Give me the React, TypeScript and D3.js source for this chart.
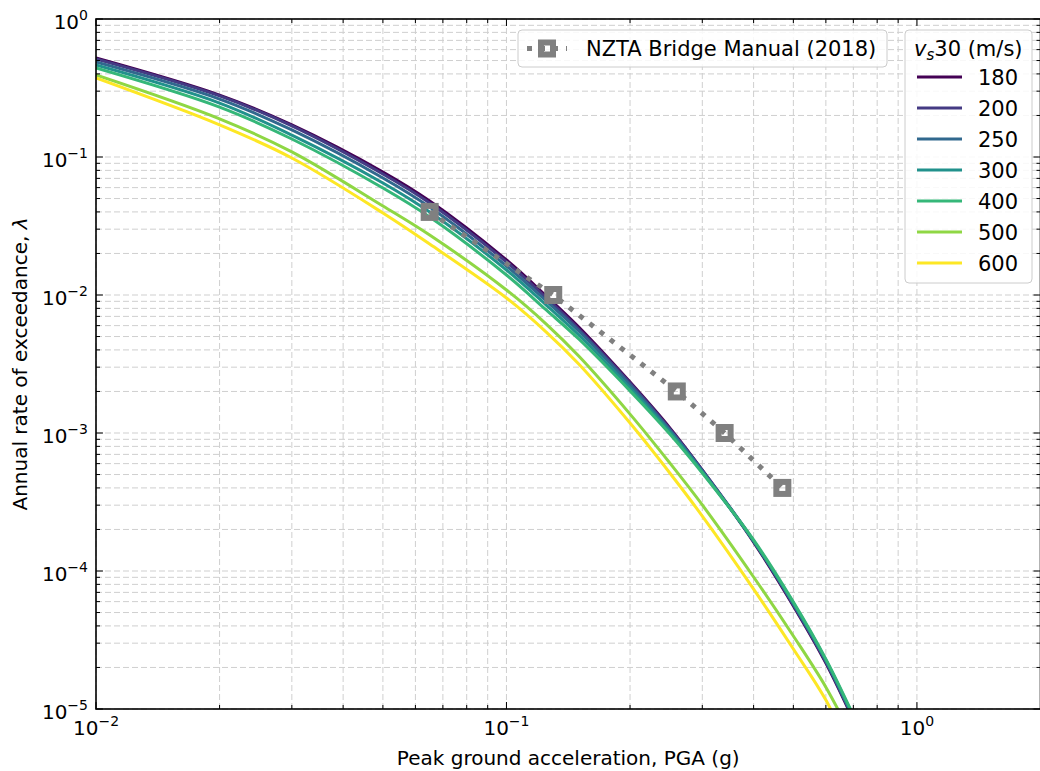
import React from 'react';
import * as d3 from 'd3';

// ---------- data ----------
const pga = [0.01, 0.02, 0.03, 0.05, 0.065, 0.1, 0.125, 0.15, 0.2, 0.25, 0.3, 0.4, 0.5, 0.6, 0.7];
const vs30Labels = ['180', '200', '250', '300', '400', '500', '600'];
const lam180 = [0.522, 0.281, 0.171, 0.0779, 0.048, 0.01793, 0.00983, 0.00586, 0.00234, 0.00109, 0.000539, 0.000162, 0.0000558, 0.0000215, 0.0000083];
const lam200 = [0.513, 0.277, 0.168, 0.0753, 0.0464, 0.01735, 0.00951, 0.00567, 0.0023, 0.00107, 0.000539, 0.000165, 0.0000567, 0.0000219, 0.0000085];
const lam250 = [0.488, 0.263, 0.157, 0.0705, 0.0434, 0.01623, 0.00905, 0.00548, 0.00223, 0.00105, 0.00053, 0.000165, 0.0000577, 0.0000223, 0.0000086];
const lam300 = [0.464, 0.246, 0.144, 0.0648, 0.0399, 0.01518, 0.00846, 0.00513, 0.00212, 0.00102, 0.000522, 0.000165, 0.0000586, 0.0000227, 0.0000088];
const lam400 = [0.442, 0.23, 0.135, 0.0596, 0.0367, 0.01396, 0.00779, 0.0048, 0.00202, 0.000983, 0.000513, 0.000168, 0.0000596, 0.000023, 0.000009];
const lam500 = [0.393, 0.189, 0.109, 0.0442, 0.0272, 0.01087, 0.00616, 0.00361, 0.00137, 0.000606, 0.000301, 0.0000905, 0.0000338, 0.0000144, 0.000006];
const lam600 = [0.374, 0.171, 0.0983, 0.0393, 0.0234, 0.00951, 0.00539, 0.00316, 0.00118, 0.000513, 0.00025, 0.000074, 0.0000272, 0.0000116, 0.0000045];
const seriesValues = [lam180, lam200, lam250, lam300, lam400, lam500, lam600];
const seriesColors = ['#440154', '#443a83', '#31688e', '#21918c', '#35b779', '#8fd744', '#fde725'];

const nztaPga = [0.065, 0.13, 0.26, 0.34, 0.47];
const nztaLam = [0.04, 0.01, 0.002, 0.001, 0.0004];
const nztaLabel = 'NZTA Bridge Manual (2018)';

const xTickExps = [-2, -1, 0];
const yTickExps = [0, -1, -2, -3, -4, -5];
const xLabel = 'Peak ground acceleration, PGA (g)';
const yLabel = 'Annual rate of exceedance, ';

const FONT = 'DejaVu Sans, sans-serif';
const FS = 20;
const LFS = 21;

export default function App() {
  const W = 1040, H = 771;
  const L = 96, R = 1040.5, T = 19, B = 709;
  const x = d3.scaleLog().domain([0.01, 2]).range([L, R]);
  const y = d3.scaleLog().domain([1e-5, 1]).range([B, T]);

  const xMajor = xTickExps.map(e => Math.pow(10, e));
  const xMinor: number[] = [];
  [-2, -1, 0].forEach(e => { for (let k = 2; k <= 9; k++) { const v = k * Math.pow(10, e); if (v <= 2.0001) xMinor.push(v); } });
  const yMajor = yTickExps.map(e => Math.pow(10, e));
  const yMinor: number[] = [];
  [-5, -4, -3, -2, -1].forEach(e => { for (let k = 2; k <= 9; k++) yMinor.push(k * Math.pow(10, e)); });

  const line = d3.line<[number, number]>()
    .x(d => x(d[0]))
    .y(d => y(d[1]))
    .curve(d3.curveCatmullRom.alpha(0.5));

  const gridStyle = { stroke: '#cfcfcf', strokeWidth: 1, strokeDasharray: '6,3' };
  const gray = '#808080';

  const supLabel = (exp: number) => (exp < 0 ? '\u2212' + Math.abs(exp) : String(exp));

  return (
    <svg width={W} height={H} style={{ position: 'absolute', left: 0, top: 0, background: '#fff' }} fontFamily={FONT}>
      <defs>
        <clipPath id="plotclip">
          <rect x={L} y={T} width={R - L} height={B - T} />
        </clipPath>
      </defs>
      <rect x={0} y={0} width={W} height={H} fill="#fff" />

      {/* grid */}
      <g>
        {[...xMajor, ...xMinor].map((v, i) => (
          <line key={'gx' + i} x1={x(v)} x2={x(v)} y1={T} y2={B} {...gridStyle} />
        ))}
        {[...yMajor, ...yMinor].map((v, i) => (
          <line key={'gy' + i} x1={L} x2={R} y1={y(v)} y2={y(v)} {...gridStyle} />
        ))}
      </g>

      {/* hazard curves */}
      <g clipPath="url(#plotclip)">
        {seriesValues.map((vals, i) => (
          <path key={'c' + i}
            d={line(pga.map((p, j) => [p, vals[j]] as [number, number])) || ''}
            fill="none" stroke={seriesColors[i]} strokeWidth={3} />
        ))}
        <path d={d3.line<[number, number]>().x(d => x(d[0])).y(d => y(d[1]))(nztaPga.map((p, j) => [p, nztaLam[j]] as [number, number])) || ''}
          fill="none" stroke={gray} strokeWidth={5} strokeDasharray="5,8" />
        {nztaPga.map((p, j) => (
          <rect key={'m' + j} x={x(p) - 6} y={y(nztaLam[j]) - 6} width={12} height={12}
            fill="none" stroke={gray} strokeWidth={6} />
        ))}
      </g>

      {/* spines */}
      <rect x={L} y={T} width={R - L} height={B - T} fill="none" stroke="#000" strokeWidth={1.6} />

      {/* ticks */}
      <g stroke="#000" strokeWidth={1}>
        {xMajor.map((v, i) => (
          <g key={'xt' + i}>
            <line x1={x(v)} x2={x(v)} y1={B} y2={B - 7} />
            <line x1={x(v)} x2={x(v)} y1={T} y2={T + 7} />
          </g>
        ))}
        {xMinor.map((v, i) => (
          <g key={'xm' + i}>
            <line x1={x(v)} x2={x(v)} y1={B} y2={B - 4} />
            <line x1={x(v)} x2={x(v)} y1={T} y2={T + 4} />
          </g>
        ))}
        {yMajor.map((v, i) => (
          <g key={'yt' + i}>
            <line x1={L} x2={L + 7} y1={y(v)} y2={y(v)} />
            <line x1={R} x2={R - 7} y1={y(v)} y2={y(v)} />
          </g>
        ))}
        {yMinor.map((v, i) => (
          <g key={'ym' + i}>
            <line x1={L} x2={L + 4} y1={y(v)} y2={y(v)} />
            <line x1={R} x2={R - 4} y1={y(v)} y2={y(v)} />
          </g>
        ))}
      </g>

      {/* tick labels */}
      <g fontSize={FS} fill="#000">
        {xTickExps.map((e, i) => (
          <text key={'xl' + i} x={x(Math.pow(10, e))} y={B + 26} textAnchor="middle">
            <tspan>10</tspan>
            <tspan fontSize={14} dy={-9}>{supLabel(e)}</tspan>
          </text>
        ))}
        {yTickExps.map((e, i) => (
          <text key={'yl' + i} x={88} y={y(Math.pow(10, e)) + 10} textAnchor="end">
            <tspan>10</tspan>
            <tspan fontSize={14} dy={-9}>{supLabel(e)}</tspan>
          </text>
        ))}
      </g>

      {/* axis labels */}
      <text x={(L + R) / 2} y={765} textAnchor="middle" fontSize={FS}>{xLabel}</text>
      <text transform={`translate(27,${(T + B) / 2}) rotate(-90)`} textAnchor="middle" fontSize={FS}>
        {yLabel}<tspan fontStyle="italic">λ</tspan>
      </text>

      {/* legend 1 */}
      <g>
        <rect x={518} y={30} width={369} height={37} rx={4} fill="#fff" fillOpacity={0.85} stroke="#cccccc" strokeWidth={1} />
        <line x1={527} x2={567} y1={48.5} y2={48.5} stroke={gray} strokeWidth={5} strokeDasharray="5,8" />
        <rect x={547 - 6} y={48.5 - 6} width={12} height={12} fill="none" stroke={gray} strokeWidth={6} />
        <text x={586} y={56} fontSize={LFS}>{nztaLabel}</text>
      </g>

      {/* legend 2 */}
      <g>
        <rect x={905} y={30} width={127} height={253} rx={4} fill="#fff" fillOpacity={0.85} stroke="#cccccc" strokeWidth={1} />
        <text x={914} y={56} fontSize={LFS}>
          <tspan fontStyle="italic">v</tspan>
          <tspan fontStyle="italic" fontSize={15} dy={4}>s</tspan>
          <tspan dy={-4}>30 (m/s)</tspan>
        </text>
        {vs30Labels.map((lab, i) => {
          const ry = 77 + i * 31;
          return (
            <g key={'lg' + i}>
              <line x1={917} x2={962} y1={ry} y2={ry} stroke={seriesColors[i]} strokeWidth={3} />
              <text x={978} y={ry + 7.5} fontSize={LFS}>{lab}</text>
            </g>
          );
        })}
      </g>
    </svg>
  );
}
